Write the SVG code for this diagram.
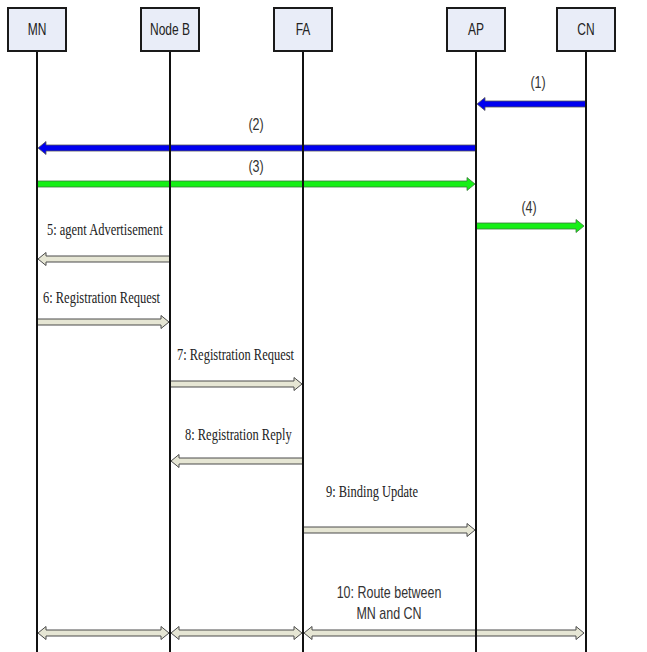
<svg xmlns="http://www.w3.org/2000/svg" width="647" height="652" viewBox="0 0 647 652">
  <style>
    .box { fill: #e9edf8; stroke: #1a1a1a; stroke-width: 2; }
    .boxlabel { font-family: "Liberation Sans", Arial, sans-serif; font-size: 16px; fill: #222; text-anchor: middle; }
    .life { stroke: #111; stroke-width: 2; fill: none; }
    .blue { fill: #0000f0; stroke: #555; stroke-width: 0.8; }
    .green { fill: #16f016; stroke: #3a7a3a; stroke-width: 0.8; }
    .msg { fill: #e6e6d4; stroke: #4a4a4a; stroke-width: 1; }
    .num { font-family: "Liberation Sans", Arial, sans-serif; font-size: 16px; fill: #333; text-anchor: middle; }
    .serif { font-family: "Liberation Serif", "Times New Roman", serif; font-size: 16px; fill: #222; }
  </style>
  <rect width="647" height="652" fill="#ffffff"/>

  <!-- message arrows (block arrows; shaft 6px, head 13px) -->
  <g id="connectors">
    <!-- (1) CN -> AP -->
    <path class="blue" d="M586 101 L485 101 L485 97.5 L477 104 L485 110.5 L485 107 L586 107 Z"/>
    <!-- (2) AP -> MN -->
    <path class="blue" d="M476 145 L46 145 L46 141.5 L38 148 L46 154.5 L46 151 L476 151 Z"/>
    <!-- (3) MN -> AP -->
    <path class="green" d="M37 181 L467 181 L467 177.5 L475 184 L467 190.5 L467 187 L37 187 Z"/>
    <!-- (4) AP -> CN -->
    <path class="green" d="M476 223 L576 223 L576 219.5 L584 226 L576 232.5 L576 229 L476 229 Z"/>
    <!-- 5 Node B -> MN -->
    <path class="msg" d="M170 256 L46 256 L46 252.5 L38 259 L46 265.5 L46 262 L170 262 Z"/>
    <!-- 6 MN -> Node B -->
    <path class="msg" d="M37 319 L161 319 L161 315.5 L169 322 L161 328.5 L161 325 L37 325 Z"/>
    <!-- 7 Node B -> FA -->
    <path class="msg" d="M170 381 L294 381 L294 377.5 L302 384 L294 390.5 L294 387 L170 387 Z"/>
    <!-- 8 FA -> Node B -->
    <path class="msg" d="M303 458 L179 458 L179 454.5 L171 461 L179 467.5 L179 464 L303 464 Z"/>
    <!-- 9 FA -> AP -->
    <path class="msg" d="M303 527 L467 527 L467 523.5 L475 530 L467 536.5 L467 533 L303 533 Z"/>
    <!-- 10 route MN <-> CN, split per hop -->
    <path class="msg" d="M46 630 L161 630 L161 626.5 L169 633 L161 639.5 L161 636 L46 636 L46 639.5 L38 633 L46 626.5 Z"/>
    <path class="msg" d="M179 630 L294 630 L294 626.5 L302 633 L294 639.5 L294 636 L179 636 L179 639.5 L171 633 L179 626.5 Z"/>
    <path class="msg" d="M312 630 L576 630 L576 626.5 L584 633 L576 639.5 L576 636 L312 636 L312 639.5 L304 633 L312 626.5 Z"/>
  </g>

  <!-- lifelines -->
  <g id="lifelines">
    <line class="life" x1="37" y1="51" x2="37" y2="652"/>
    <line class="life" x1="170" y1="51" x2="170" y2="652"/>
    <line class="life" x1="303" y1="51" x2="303" y2="652"/>
    <line class="life" x1="476" y1="51" x2="476" y2="652"/>
    <line class="life" x1="586" y1="51" x2="586" y2="652"/>
  </g>

  <g id="node-mn">
    <rect class="box" x="8" y="8" width="58" height="43"/>
    <text class="boxlabel" transform="matrix(0.75 0 0 1 37 35)">MN</text>
  </g>
  <g id="node-nodeb">
    <rect class="box" x="141" y="8" width="58" height="43"/>
    <text class="boxlabel" transform="matrix(0.75 0 0 1 170 35)">Node B</text>
  </g>
  <g id="node-fa">
    <rect class="box" x="274" y="8" width="58" height="43"/>
    <text class="boxlabel" transform="matrix(0.75 0 0 1 303 35)">FA</text>
  </g>
  <g id="node-ap">
    <rect class="box" x="447" y="8" width="58" height="43"/>
    <text class="boxlabel" transform="matrix(0.75 0 0 1 476 35)">AP</text>
  </g>
  <g id="node-cn">
    <rect class="box" x="557" y="8" width="58" height="43"/>
    <text class="boxlabel" transform="matrix(0.75 0 0 1 586 35)">CN</text>
  </g>

  <!-- message labels (narrowed glyphs) -->
  <g id="labels">
    <text class="num" transform="matrix(0.78 0 0 1 538 88)">(1)</text>
    <text class="num" transform="matrix(0.78 0 0 1 256 130)">(2)</text>
    <text class="num" transform="matrix(0.78 0 0 1 256 172)">(3)</text>
    <text class="num" transform="matrix(0.78 0 0 1 529 213)">(4)</text>
    <text class="serif" transform="matrix(0.78 0 0 1 47 235)">5: agent Advertisement</text>
    <text class="serif" transform="matrix(0.78 0 0 1 43 303)">6: Registration Request</text>
    <text class="serif" transform="matrix(0.78 0 0 1 177 360)">7: Registration Request</text>
    <text class="serif" transform="matrix(0.78 0 0 1 185 440)">8: Registration Reply</text>
    <text class="serif" transform="matrix(0.78 0 0 1 326 497)">9: Binding Update</text>
    <text class="num" transform="matrix(0.78 0 0 1 389 598)">10: Route between</text>
    <text class="num" transform="matrix(0.78 0 0 1 389 619)">MN and CN</text>
  </g>
</svg>
